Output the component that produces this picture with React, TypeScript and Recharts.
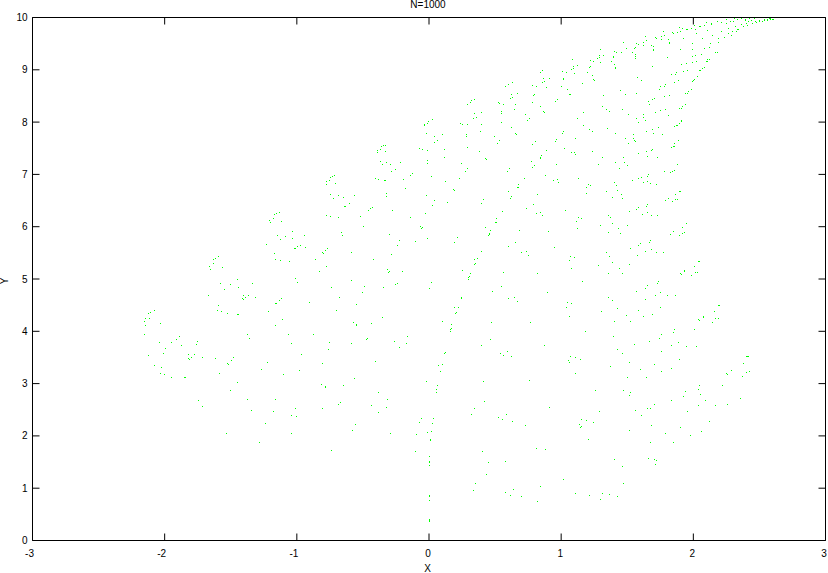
import { ScatterChart, Scatter, XAxis, YAxis } from 'recharts';

type Pt = [number, number];

const xTicks = [-3, -2, -1, 0, 1, 2, 3];
const yTicks = [0, 1, 2, 3, 4, 5, 6, 7, 8, 9, 10];

// values, one list per patch of the plot
const leftMiddle: Pt[] = [
  [-2.083,4.395],[-2.114,4.357],[-2.129,4.338],[-2.152,4.242],[-2.121,4.248],[-2.159,4.185],[-2.152,4.108],[-2.038,4.146],[-2.159,3.936],[-1.894,3.898],
  [-1.917,3.841],[-1.955,3.783],[-2.045,3.783],[-1.758,3.803],[-1.765,3.745],[-1.879,3.726],[-2.0,3.669],[-2.015,3.573],[-2.129,3.535],[-1.826,3.548],
  [-1.78,3.548],[-1.803,3.497],[-1.826,3.478],[-1.818,3.459],[-1.72,3.497],[-1.621,3.478],[-1.485,3.497],[-1.5,3.439],[-1.53,3.382],[-1.523,3.363],
  [-2.083,3.344],[-2.03,3.306],[-2.038,3.191],[-2.008,3.172],[-1.955,3.115],[-1.856,3.115],[-1.848,3.115],[-1.591,3.191],[-1.227,3.401],[-1.273,3.268],
  [-1.598,5.427],[-1.621,5.389],[-1.636,5.369],[-1.636,5.293],[-1.667,5.236],[-1.659,5.178],[-1.568,5.217],[-1.583,4.911],[-1.508,4.892],[-1.455,4.987],
  [-1.341,4.911],[-1.553,4.796],[-1.447,4.834],[-1.674,4.682],[-1.409,4.682],[-1.371,4.682],[-1.417,4.624],[-1.409,4.605],[-1.394,4.643],[-1.318,4.643],
  [-1.598,4.49],[-1.606,4.395],[-1.576,4.376],[-1.53,4.338],[-1.455,4.318],[-1.447,4.318],[-1.22,4.376],[-1.167,4.529],[-1.379,3.936],[-1.364,3.86],
  [-1.167,4.108],[-1.235,5.656],[-1.174,5.484],[-1.167,5.369],[-1.174,6.229],[-1.182,6.153],[-1.212,6.115],[-1.205,6.076],
];

const leftBottom: Pt[] = [
  [-1.75,2.675],[-1.72,2.561],[-1.508,2.866],[-1.455,3.019],[-1.379,2.694],[-1.167,2.694],[-1.348,2.484],[-1.182,2.465],[-1.242,2.236],[-1.538,2.045],[-1.288,1.873],
];

const centreBottom: Pt[] = [
  [-0.818,2.981],[-0.788,2.943],[-0.788,2.924],[-0.652,2.962],[-0.386,2.828],[-0.318,2.694],[-1.015,2.522],[-0.811,2.522],[-0.674,2.637],[-0.689,2.599],
  [-0.439,2.58],[-0.326,2.541],[-0.386,2.446],[-1.045,2.389],[-1.008,2.369],[-0.561,2.217],[-0.583,2.102],[-1.045,2.045],[-0.295,2.045],[-0.742,1.72],
  [0.061,2.962],[0.053,2.885],[0.053,2.828],[-0.061,2.331],[0.03,2.331],[-0.076,2.255],[0.023,2.236],[-0.098,2.025],[-0.015,2.064],[0.015,2.083],
  [0.008,1.93],[0.008,1.911],[-0.106,1.701],[0,1.605],[0,1.51],[0,1.49],[0,1.433],[0,0.86],[0,0.841],[0,0.764],[0,0.401],[0,0.382],[0,0.363],
  [0.417,2.656],[0.341,2.522],[0.318,2.408],[0.523,2.35],[0.583,2.408],[0.553,2.312],[0.629,2.274],[0.727,2.197],[0.909,2.541],[0.811,1.758],[0.879,1.739],
  [0.402,1.701],[0.447,1.49],[0.576,1.51],[0.432,1.261],[0.348,1.089],[0.333,0.955],[0.636,0.975],[0.841,1.032],[0.576,0.917],[0.614,0.86],[0.697,0.841],[0.818,0.745],
];

const rightBottom: Pt[] = [
  [1.258,2.866],[1.47,2.866],[1.523,2.828],[1.515,2.771],[1.288,2.465],[1.561,2.484],[1.606,2.389],[1.652,2.522],[1.674,2.522],[1.705,2.599],
  [1.833,2.675],[1.924,2.752],[1.939,2.847],[2.045,2.962],[2.038,2.885],[2.053,2.79],[2.091,2.675],[2.038,2.58],[2.167,2.58],[2.22,2.962],
  [2.258,2.599],[2.356,2.713],[1.955,2.465],[2.121,2.274],[1.152,2.312],[1.189,2.293],[1.136,2.217],[1.242,2.255],[1.152,2.178],[1.144,2.159],
  [1.205,1.93],[1.682,2.197],[1.515,2.102],[1.902,2.159],[1.788,2.045],[2.061,2.083],[1.977,2.006],[1.674,1.873],[1.848,1.873],[1.402,1.548],
  [1.462,1.414],[1.659,1.567],[1.705,1.548],[1.72,1.529],[1.712,1.452],[1.47,1.089],[1.015,1.166],[1.106,0.898],[1.212,0.86],[1.311,0.898],
  [1.364,0.879],[1.424,0.841],[1.295,0.783],
];

const centreMiddle: Pt[] = [
  [-0.75,6.611],[-0.689,6.592],[-0.727,6.535],[-0.652,6.554],[-0.568,6.592],[-0.326,6.631],[-0.326,6.573],[-0.023,6.592],[0.038,6.497],[0.023,6.401],
  [0.136,6.459],[0.409,6.516],[0.394,6.439],[0.598,6.669],[0.621,6.573],[0.614,6.535],[0.818,6.611],[0.788,6.42],[0.735,6.344],[0.811,6.248],
  [0.841,6.268],[0.856,6.21],[0.553,6.287],[0.508,6.153],[0.5,6.076],[0.508,6.076],[-0.644,6.382],[-0.636,6.382],[-0.606,6.439],[-0.432,6.363],
  [-0.447,6.344],[-0.462,6.306],[-0.28,6.306],[-0.03,6.248],[-0.144,6.172],[-0.523,6.191],[-0.689,6.172],[-0.75,6.191],[-0.78,6.21],[-1.159,6.248],
  [-1.136,6.268],[-1.121,6.096],[-0.5,6.0],[-0.068,6.0],[-0.053,5.981],[-0.061,5.962],[0.424,5.981],[0.462,5.924],[0.455,5.866],[0.455,5.847],
  [0.447,5.828],[0.682,5.924],[0.902,5.904],[-0.667,5.885],[-0.659,5.828],[-0.303,5.847],[-1.038,5.904],[-0.947,5.828],[-1.152,5.828],[-1.091,5.809],
  [-1.038,5.771],[-1.129,5.752],[-0.227,5.732],[-0.106,5.713],[-0.015,5.771],[0.212,5.79],[0.189,5.694],[0.652,5.694],[-0.242,5.637],[0.598,5.618],
  [-1.0,5.618],[-0.977,5.637],[-1.023,5.58],[-1.015,5.58],[-0.939,5.599],[-0.773,5.58],[-0.788,5.541],[-0.811,5.503],[-0.803,5.484],[-0.591,5.503],
  [-0.288,5.465],[0.394,5.522],[0.697,5.503],[0.735,5.522],[0.75,5.446],[0.364,5.389],[0.341,5.369],[0.348,5.293],[0.341,5.274],[-0.424,5.369],
  [-0.864,5.369],[-1.129,5.35],[-1.061,5.331],[-0.78,5.236],[-0.833,5.14],[-0.318,5.178],[-0.303,5.14],[-0.311,5.121],[-0.205,5.14],[0.25,5.159],
  [0.311,5.102],[0.303,5.045],[0.295,5.025],[0.295,4.987],[0.561,5.121],[0.818,5.102],[-1.015,5.006],[-1.0,4.93],[-0.591,4.968],[0.015,4.93],
  [-0.242,4.911],[-0.258,4.892],[-0.492,4.854],[-0.742,4.834],[-0.348,4.834],[0,4.815],[0.545,4.854],[0.477,4.758],[-0.508,4.739],[0.894,4.739],
  [-0.682,4.643],[0.242,4.643],[0.242,4.624],[0.598,4.624],[0.644,4.643],[0.667,4.567],[-1.121,4.624],[-1.136,4.586],[-1.159,4.529],[-0.909,4.548],
  [-0.553,4.51],[0.189,4.452],[0.22,4.452],[-0.705,4.395],[0.205,4.357],[0.197,4.338],[-0.356,4.261],[-1.114,4.223],[0.098,4.185],[-0.576,4.166],
  [-0.439,4.146],[-0.553,4.127],[-0.553,4.108],[0.47,4.166],[0.765,4.166],[0.167,4.127],[0.167,4.051],[0.159,4.032],[0.159,3.994],[-1.068,3.936],
  [-0.879,3.936],[-0.167,3.898],[-0.47,3.86],[-0.477,3.841],[0.462,3.841],[-0.265,3.803],[-0.758,3.783],[-1.045,3.764],[-0.591,3.764],[-0.174,3.764],
  [0.394,3.726],[0.871,3.726],[-0.227,3.688],[-0.765,3.65],[-0.97,3.554],[0.121,3.592],[0.114,3.573],[0.538,3.573],[0.591,3.611],[0.561,3.535],
  [0.621,3.516],[-0.409,3.42],[-0.811,3.382],[0.068,3.344],[0.098,3.363],[-0.985,3.248],[0.083,3.229],[-1.106,3.172],[-0.568,3.096],[-0.023,3.038],
  [0.409,3.038],[0.758,3.057],
];

const rightMiddle: Pt[] = [
  [1.189,6.631],[1.341,6.669],[1.386,6.554],[1.455,6.611],[1.462,6.535],[1.864,6.611],[1.788,6.497],[1.811,6.535],[1.841,6.478],[1.864,6.516],
  [1.879,6.516],[1.894,6.669],[1.902,6.669],[1.03,6.306],[1.515,6.287],[1.568,6.325],[1.583,6.363],[1.644,6.382],[1.652,6.42],[1.614,6.229],
  [1.652,6.268],[1.682,6.21],[1.727,6.21],[1.129,6.172],[1.152,6.153],[1.114,6.096],[1.356,6.21],[1.371,6.172],[1.386,6.057],[1.295,6.019],
  [1.5,6.019],[1.947,6.057],[1.917,5.981],[1.121,5.962],[1.432,5.962],[1.848,5.904],[1.932,5.885],[1.917,5.866],[1.826,5.847],[1.894,5.828],
  [1.356,5.885],[1.447,5.866],[1.674,5.732],[1.667,5.694],[1.6,5.675],[1.583,5.637],[0.947,5.599],[1.523,5.58],[1.636,5.522],[1.682,5.561],
  [1.72,5.503],[1.773,5.503],[1.341,5.503],[1.576,5.446],[1.364,5.427],[1.068,5.427],[1.098,5.408],[1.061,5.35],[1.386,5.312],[1.515,5.274],
  [1.28,5.255],[1.076,5.197],[1.439,5.197],[1.356,5.102],[1.462,5.102],[2.038,5.331],[2.045,5.331],[2.008,5.236],[1.932,5.159],[1.932,5.14],
  [2.015,5.121],[2.03,5.121],[1.902,5.102],[1.91,5.083],[1.985,5.064],[1.159,4.949],[1.735,4.949],[1.727,4.911],[1.652,4.873],[1.636,4.815],
  [1.568,4.758],[1.749,4.739],[1.712,4.682],[1.803,4.682],[1.864,4.682],[1.356,4.643],[1.386,4.586],[1.636,4.605],[1.045,4.548],[1.076,4.529],
  [1.038,4.452],[1.424,4.433],[1.75,4.452],[1.303,4.376],[1.583,4.395],[1.492,4.299],[1.689,4.318],[1.621,4.28],[1.061,4.28],[1.402,4.185],
  [1.523,4.185],[2.184,4.49],[2.192,4.49],[2.159,4.376],[2.076,4.28],[2.076,4.261],[2.038,4.223],[2.045,4.204],[2.167,4.242],[2.19,4.242],
  [2.144,4.166],[1.856,4.032],[2.008,4.032],[1.848,3.975],[1.182,3.994],[1.758,3.936],[1.394,3.898],[1.742,3.86],[1.667,3.803],[1.886,3.783],
  [1.553,3.745],[1.833,3.726],[1.947,3.707],[2.023,3.707],[1.424,3.65],[1.758,3.611],[1.462,3.573],[1.068,3.516],[1.106,3.497],[1.144,3.459],
  [1.053,3.439],[1.061,3.401],[1.515,3.401],[1.894,3.459],[1.705,3.363],[1.371,3.325],[1.6,3.268],[1.833,3.287],[1.758,3.229],[1.106,3.191],
  [1.5,3.115],[1.644,3.115],[2.402,3.516],[2.409,3.516],[2.417,3.516],[2.379,3.382],[2.288,3.248],[2.424,3.229],[2.402,3.21],[2.25,3.191],
  [2.258,3.172],[2.371,3.134],
];

const centreTop: Pt[] = [
  [-0.72,6.981],[-0.735,6.955],[-0.75,6.936],[-0.758,6.879],[-0.78,6.86],[-0.78,6.803],[-0.712,6.822],[-0.333,7.548],[-0.348,7.548],[-0.364,7.529],
  [-0.371,7.471],[-0.394,7.452],[-0.394,7.414],[-0.333,7.433],[-0.371,7.242],[-0.326,7.223],[-0.356,7.185],[-0.295,7.185],[-0.22,7.223],[-0.258,7.089],
  [-0.288,7.051],[-0.409,6.917],[-0.386,6.898],[-0.341,6.879],[-0.333,6.879],[-0.197,6.898],[-0.129,7.013],[-0.144,6.975],[-0.182,6.726],[0.023,8.045],
  [-0.008,8.006],[-0.015,7.968],[-0.038,7.949],[-0.038,7.93],[-0.023,7.777],[0.038,7.72],[0.098,7.758],[0.061,7.643],[0.038,7.605],[-0.076,7.49],
  [-0.053,7.471],[-0.015,7.452],[0.114,7.471],[0.114,7.318],[-0.015,7.261],[-0.015,7.204],[0.015,6.955],[0.121,6.86],[0.242,7.204],[0.288,7.108],
  [0.273,7.051],[0.227,6.917],[0.182,6.707],[0.189,6.688],[0.341,8.427],[0.318,8.408],[0.311,8.369],[0.288,8.331],[0.341,8.159],[0.394,8.178],
  [0.356,8.083],[0.333,8.064],[0.235,7.968],[0.25,7.949],[0.288,7.949],[0.394,7.949],[0.386,7.815],[0.279,7.758],[0.279,7.72],[0.288,7.51],
  [0.379,7.433],[0.424,7.299],[0.432,7.28],[0.492,7.72],[0.53,7.643],[0.515,7.586],[0.523,8.369],[0.53,8.35],[0.561,8.331],[0.545,8.197],
  [0.545,8.159],[0.545,7.987],[0.576,8.675],[0.598,8.713],[0.629,8.752],[0.621,8.522],[0.667,8.541],[0.614,8.446],[0.629,8.465],[0.652,8.331],
  [0.644,8.236],[0.621,7.892],[0.652,7.777],[0.659,7.758],[0.727,8.14],[0.758,8.064],[0.742,8.025],[0.78,8.694],[0.811,8.675],[0.795,8.522],
  [0.788,8.503],[0.78,8.369],[0.841,8.293],[0.864,8.197],[0.871,8.178],[0.78,7.567],[0.803,7.624],[0.856,8.981],[0.841,8.943],[0.864,8.828],
  [0.909,8.828],[0.871,8.771],[0.856,8.752],[0.886,8.656],[0.886,7.452],[0.848,7.357],[0.841,7.318],[0.841,7.299],[0.773,7.242],[0.795,7.166],
  [0.78,7.127],[0.606,7.108],[0.591,7.051],[0.879,6.975],[0.72,6.917],[0.674,6.803],[0.667,6.745],[0.674,6.745],
];

const rightTop: Pt[] = [
  [2.31,9.975],[2.333,9.955],[2.364,9.975],[2.394,9.955],[2.424,9.975],[2.462,9.975],[2.25,9.955],[2.28,9.917],[2.303,9.917],[2.394,9.936],
  [2.417,9.917],[2.439,9.936],[2.47,9.917],[2.5,9.936],[2.5,9.917],[2.523,9.917],[2.538,9.955],[2.538,9.936],[2.561,9.955],[2.561,9.936],
  [2.576,9.975],[2.583,9.975],[2.583,9.955],[2.598,9.955],[2.606,9.955],[2.212,9.898],[2.25,9.879],[2.182,9.917],[2.136,9.879],[2.136,9.86],
  [2.098,9.898],[2.083,9.841],[2.053,9.822],[2.045,9.822],[2.008,9.841],[1.985,9.783],[1.955,9.764],[1.947,9.764],[1.917,9.783],[1.894,9.803],
  [1.902,9.726],[1.879,9.707],[1.841,9.707],[1.848,9.688],[1.773,9.726],[1.78,9.65],[1.758,9.631],[1.712,9.611],[1.72,9.592],[1.636,9.631],
  [1.644,9.554],[1.583,9.478],[1.568,9.497],[1.47,9.516],[1.621,9.516],[1.621,9.459],[1.492,9.408],[1.455,9.325],[1.417,9.325],[1.402,9.344],
  [1.295,9.382],[1.288,9.268],[1.318,9.268],[1.273,9.21],[1.288,9.229],[1.242,9.153],[1.22,9.172],[1.295,9.134],[1.394,9.248],[1.394,9.229],
  [1.379,9.153],[1.402,9.096],[1.409,9.038],[1.409,9.019],[1.083,9.191],[1.121,9.076],[1.091,9.057],[1.091,9.019],[1.076,9.0],[1.22,9.057],
  [1.212,9.038],[1.197,8.943],[1.008,8.962],[1.038,8.943],[1.098,8.924],[1.015,8.828],[1.015,8.809],[1.235,8.885],[1.242,8.809],[1.25,8.79],
  [1.159,8.732],[1.0,8.675],[1.045,8.618],[1.061,8.522],[1.068,8.522],[0.97,8.427],[0.955,8.389],[1.318,8.503],[1.447,8.599],[1.485,8.522],
  [1.568,8.541],[1.311,8.293],[1.341,8.236],[1.364,8.197],[1.462,8.236],[1.167,8.178],[1.508,8.14],[1.121,8.064],[1.568,8.064],[1.621,8.14],
  [1.621,8.083],[1.636,8.025],[1.583,7.987],[1.167,7.93],[1.212,7.854],[1.235,7.815],[1.348,7.873],[1.409,7.777],[1.015,7.815],[1.008,7.777],
  [1.106,7.682],[0.962,7.662],[0.955,7.624],[1.023,7.49],[1.076,7.414],[1.098,7.414],[1.106,7.376],[1.235,7.433],[1.311,7.318],[1.47,7.318],
  [1.409,7.223],[1.477,7.223],[1.5,7.166],[1.28,7.185],[0.962,7.185],[1.439,7.108],[0.939,6.879],[0.97,6.898],[0.977,6.841],[1.129,6.917],
  [1.205,6.803],[1.22,6.783],[1.189,6.745],[1.402,6.841],[1.417,6.783],[1.424,6.688],[1.538,6.879],[1.583,6.917],[1.606,6.936],[1.659,6.994],
  [1.652,6.955],[1.621,6.841],[1.652,6.86],[1.674,6.822],[1.72,6.803],[1.78,7.051],[1.826,7.032],[1.841,7.051],[1.856,7.07],[1.879,7.185],
  [1.583,7.395],[1.644,7.433],[1.652,7.338],[1.682,7.452],[1.689,7.471],[1.727,7.318],[1.833,7.51],[1.848,7.529],[1.856,7.529],[1.856,7.586],
  [1.886,7.643],[1.485,7.682],[1.545,7.758],[1.545,7.682],[1.553,7.643],[1.508,7.586],[1.561,7.624],[1.644,7.815],[1.689,7.854],[1.697,7.777],
  [1.735,7.892],[1.765,7.758],[1.856,7.911],[1.871,7.93],[1.879,7.93],[1.894,7.968],[1.909,8.025],[1.909,8.006],[1.712,8.178],[1.75,8.217],
  [1.788,8.236],[1.811,8.121],[1.894,8.255],[1.909,8.255],[1.917,8.293],[1.939,8.331],[1.659,8.389],[1.667,8.331],[1.689,8.427],[1.705,8.446],
  [1.78,8.484],[1.818,8.503],[1.939,8.541],[1.955,8.541],[1.962,8.58],[1.985,8.618],[1.742,8.618],[1.75,8.675],[1.78,8.675],[1.788,8.713],
  [1.856,8.752],[1.886,8.79],[1.992,8.771],[2.0,8.79],[2.008,8.809],[2.03,8.866],[1.833,8.904],[1.864,8.904],[1.871,8.943],[1.924,8.962],
  [1.955,8.981],[2.045,8.981],[2.053,8.981],[2.068,9.019],[2.083,9.038],[1.909,9.096],[1.947,9.115],[1.992,9.134],[2.023,9.153],[2.098,9.153],
  [2.106,9.153],[2.106,9.191],[2.121,9.191],[1.992,9.248],[2.015,9.268],[2.061,9.287],[2.167,9.325],[2.182,9.325],[1.992,9.382],[2.083,9.401],
  [2.121,9.42],[2.129,9.497],[2.19,9.516],[2.19,9.592],[2.235,9.611],[2.265,9.688],[2.288,9.65],[2.333,9.764],[2.295,9.726],[2.326,9.726],
  [2.341,9.764],[2.265,9.783],[2.318,9.822],[2.379,9.822],[2.364,9.86],[2.409,9.841],[2.447,9.879],[2.477,9.898],[2.402,9.879],[2.212,9.726],
  [2.144,9.65],[2.015,9.764],[2.023,9.688],[2.106,9.745],[2.068,9.592],[1.992,9.497],[1.924,9.592],[1.902,9.382],[1.811,9.573],[1.818,9.516],
  [1.818,9.497],[1.758,9.573],[1.697,9.439],[1.682,9.459],[1.697,9.382],[1.697,9.363],[1.553,9.401],[1.561,9.42],[1.538,9.325],[1.561,9.287],
  [1.561,9.248],[1.561,9.21],[1.803,9.229],[1.689,9.057],[1.576,8.847],[1.606,8.79],
];

const points = [...leftMiddle, ...leftBottom, ...centreBottom, ...rightBottom, ...centreMiddle, ...rightMiddle, ...centreTop, ...rightTop]
  .map(([x, y]) => ({ x, y }));

const font = { fontFamily: 'Liberation Sans', fontSize: 10, fill: '#000' };
const line = { stroke: '#000', strokeWidth: 1 };

// one device pixel per point, like the original plot
const Speck = (props: any) => (
  <rect x={Math.round(props.cx)} y={Math.floor(props.cy)} width={1} height={1} fill="#00ff00" shapeRendering="crispEdges" />
);

// bottom labels sit a little left of their ticks, more so with a minus sign
const BottomTick = ({ x, y, payload }: any) => {
  const shift = payload.value < 0 ? -3 : payload.value === 3 ? 0 : -1;
  return <text x={x + shift} y={y + 9.5} textAnchor="middle" {...font}>{payload.value}</text>;
};

// mirror axes only show tick marks
const NoLabel = () => <g />;

const App = () => {
  return (
    <div style={{ position: 'absolute', left: 0, top: 0, width: 828, height: 573, background: '#fff' }}>
      <ScatterChart width={828} height={573} margin={{ top: 0, right: 0, bottom: 0, left: 0 }}>
        <XAxis dataKey="x" type="number" domain={[-3, 3]} ticks={xTicks} height={32.5} tickSize={-7} tickMargin={14} axisLine={line} tickLine={line} tick={BottomTick} />
        <XAxis dataKey="x" xAxisId="top" orientation="top" type="number" domain={[-3, 3]} ticks={xTicks} height={17.5} tickSize={-7} axisLine={line} tickLine={line} tick={NoLabel} />
        <YAxis dataKey="y" type="number" domain={[0, 10]} ticks={yTicks} width={32.5} tickSize={-7} tickMargin={12} axisLine={line} tickLine={line} tick={font} />
        <YAxis dataKey="y" yAxisId="right" orientation="right" type="number" domain={[0, 10]} ticks={yTicks} width={2.5} tickSize={-7} axisLine={line} tickLine={line} tick={NoLabel} />
        <Scatter data={points} shape={Speck} isAnimationActive={false} />
        {/* same data on the mirror axes, draws nothing, only gives them their ticks */}
        <Scatter data={points} xAxisId="top" yAxisId="right" shape={NoLabel} isAnimationActive={false} />
        <text x={428} y={8} textAnchor="middle" {...font}>N=1000</text>
        <text x={427.5} y={572} textAnchor="middle" {...font}>X</text>
        <text x={8} y={281} textAnchor="middle" transform="rotate(-90 8 281)" {...font}>Y</text>
      </ScatterChart>
    </div>
  );
};

export default App;
